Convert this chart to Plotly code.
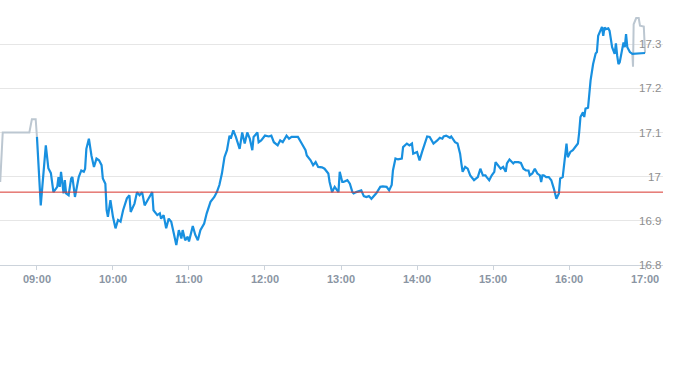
import plotly.graph_objects as go

DAY = "2024-01-02 "

pre_times = ["08:31", "08:33", "08:54", "08:56", "08:59", "09:00"]
pre_prices = [16.988, 17.10, 17.10, 17.13, 17.13, 17.09]

main_times = [
    "09:00", "09:03", "09:07", "09:09", "09:11", "09:13", "09:16", "09:17", "09:18", "09:19",
    "09:21", "09:22", "09:23", "09:25", "09:27", "09:28", "09:30", "09:33", "09:35", "09:37",
    "09:38", "09:39", "09:41", "09:43", "09:45", "09:47", "09:49", "09:51", "09:52", "09:54",
    "09:55", "09:56", "09:58", "10:00", "10:02", "10:04", "10:06", "10:08", "10:11", "10:13",
    "10:14", "10:17", "10:19", "10:21", "10:23", "10:25", "10:28", "10:31", "10:32", "10:35",
    "10:37", "10:38", "10:40", "10:42", "10:44", "10:46", "10:48", "10:50", "10:52", "10:54",
    "10:55", "10:57", "10:59", "11:00", "11:03", "11:05", "11:07", "11:09", "11:12", "11:14",
    "11:17", "11:20", "11:22", "11:24", "11:26", "11:28", "11:30", "11:32", "11:33", "11:35",
    "11:37", "11:40", "11:42", "11:44", "11:46", "11:48", "11:50", "11:51", "11:54", "11:55",
    "11:57", "12:00", "12:03", "12:05", "12:07", "12:10", "12:12", "12:14", "12:17", "12:19",
    "12:21", "12:24", "12:26", "12:29", "12:32", "12:33", "12:36", "12:38", "12:40", "12:42",
    "12:45", "12:47", "12:50", "12:51", "12:53", "12:55", "12:57", "12:58", "12:59", "13:01",
    "13:02", "13:05", "13:07", "13:09", "13:10", "13:12", "13:16", "13:18", "13:20", "13:22",
    "13:24", "13:26", "13:28", "13:31", "13:33", "13:36", "13:38", "13:40", "13:41", "13:43",
    "13:45", "13:48", "13:49", "13:52", "13:54", "13:56", "13:57", "14:00", "14:02", "14:04",
    "14:06", "14:08", "14:10", "14:12", "14:13", "14:16", "14:18", "14:20", "14:21", "14:23",
    "14:26", "14:27", "14:30", "14:32", "14:34", "14:35", "14:36", "14:38", "14:40", "14:42",
    "14:45", "14:48", "14:50", "14:52", "14:54", "14:55", "14:57", "14:59", "15:01", "15:02",
    "15:04", "15:06", "15:08", "15:10", "15:11", "15:13", "15:16", "15:17", "15:20", "15:22",
    "15:24", "15:26", "15:28", "15:29", "15:31", "15:33", "15:35", "15:37", "15:38", "15:39",
    "15:40", "15:42", "15:44", "15:45", "15:46", "15:48", "15:49", "15:50", "15:52", "15:53",
    "15:55", "15:56", "15:58", "15:59", "16:01", "16:03", "16:05", "16:07", "16:08", "16:09",
    "16:11", "16:12", "16:13", "16:15", "16:17", "16:18", "16:19", "16:21", "16:22", "16:23",
    "16:25", "16:26", "16:27", "16:28", "16:29", "16:31", "16:32", "16:33", "16:34", "16:36",
    "16:37", "16:38", "16:39", "16:40", "16:42", "16:43", "16:44", "16:45", "16:46", "16:48",
    "16:50", "17:00",
]
main_prices = [
    17.090, 16.935, 17.071, 17.019, 17.008, 16.965, 16.977, 16.999, 16.977, 17.011,
    16.962, 16.992, 16.962, 16.958, 16.996, 16.999, 16.954, 16.999, 17.014, 17.011,
    17.018, 17.063, 17.086, 17.048, 17.022, 17.041, 17.037, 17.026, 16.996, 16.984,
    16.924, 16.909, 16.947, 16.909, 16.883, 16.902, 16.898, 16.924, 16.951, 16.958,
    16.920, 16.939, 16.965, 16.958, 16.965, 16.935, 16.950, 16.965, 16.924, 16.913,
    16.917, 16.905, 16.913, 16.883, 16.905, 16.898, 16.872, 16.845, 16.879, 16.860,
    16.879, 16.856, 16.864, 16.853, 16.888, 16.868, 16.856, 16.879, 16.894, 16.917,
    16.943, 16.954, 16.965, 16.981, 17.007, 17.044, 17.060, 17.093, 17.086, 17.105,
    17.090, 17.063, 17.100, 17.075, 17.100, 17.086, 17.060, 17.090, 17.100, 17.078,
    17.082, 17.093, 17.091, 17.093, 17.078, 17.071, 17.082, 17.078, 17.093, 17.086,
    17.090, 17.090, 17.090, 17.075, 17.060, 17.048, 17.037, 17.026, 17.033, 17.022,
    17.021, 17.018, 17.007, 16.988, 16.965, 16.977, 16.968, 16.965, 17.011, 16.988,
    16.988, 16.992, 16.984, 16.965, 16.962, 16.965, 16.969, 16.956, 16.954, 16.956,
    16.950, 16.956, 16.963, 16.977, 16.978, 16.977, 16.969, 16.981, 17.014, 17.041,
    17.039, 17.041, 17.067, 17.075, 17.071, 17.075, 17.052, 17.056, 17.037, 17.056,
    17.075, 17.091, 17.090, 17.078, 17.075, 17.082, 17.088, 17.086, 17.091, 17.093,
    17.088, 17.091, 17.078, 17.075, 17.052, 17.030, 17.011, 17.022, 17.018, 17.003,
    16.992, 16.999, 17.018, 17.003, 17.003, 16.999, 16.992, 17.003, 17.011, 17.033,
    17.026, 17.018, 17.022, 17.011, 17.030, 17.039, 17.030, 17.033, 17.033, 17.031,
    17.018, 17.014, 17.014, 17.003, 17.007, 17.018, 17.007, 17.003, 16.988, 17.003,
    17.003, 16.999, 16.999, 16.996, 16.992, 16.973, 16.958, 16.950, 16.962, 16.996,
    16.999, 17.022, 17.075, 17.044, 17.056, 17.060, 17.067, 17.075, 17.100, 17.135,
    17.146, 17.135, 17.154, 17.156, 17.218, 17.236, 17.255, 17.279, 17.282, 17.319,
    17.330, 17.339, 17.319, 17.338, 17.334, 17.336, 17.330, 17.308, 17.293, 17.278,
    17.302, 17.274, 17.255, 17.259, 17.289, 17.304, 17.293, 17.323, 17.293, 17.282,
    17.278, 17.280,
]

post_times = ["16:50", "16:50:30", "16:51", "16:53", "16:55", "16:56", "16:59", "17:00"]
post_prices = [17.278, 17.249, 17.345, 17.359, 17.359, 17.342, 17.340, 17.280]

prev_close = 16.965
y_ticks = [16.8, 16.9, 17.0, 17.1, 17.2, 17.3]
y_tick_text = ["16.8", "16.9", "17", "17.1", "17.2", "17.3"]
x_ticks = ["09:00", "10:00", "11:00", "12:00", "13:00", "14:00", "15:00", "16:00", "17:00"]

FONT = "Liberation Sans, Arial, sans-serif"

fig = go.Figure()
fig.add_trace(go.Scatter(x=[DAY + t for t in pre_times], y=pre_prices, mode="lines",
                         line=dict(color="#bcc7d1", width=2), hoverinfo="skip"))
fig.add_trace(go.Scatter(x=[DAY + t for t in post_times], y=post_prices, mode="lines",
                         line=dict(color="#bcc7d1", width=2), hoverinfo="skip"))
fig.add_trace(go.Scatter(x=[DAY + t for t in main_times], y=main_prices, mode="lines",
                         line=dict(color="#1890e0", width=2.2), hoverinfo="skip"))

fig.add_shape(type="line", xref="x domain", yref="y", x0=0, x1=1, y0=prev_close, y1=prev_close,
              line=dict(color="#d8342c", width=1), layer="above")

# right-aligned price labels at the right edge
for v, txt in zip(y_ticks, y_tick_text):
    fig.add_annotation(x=1.0, xref="paper", y=v, yref="y", text=txt, showarrow=False,
                       xanchor="right", yanchor="middle", xshift=0,
                       font=dict(size=11.5, color="#8e8e8e", family=FONT))

fig.update_layout(
    width=693, height=365,
    margin=dict(l=0, r=30, t=0, b=100, autoexpand=False),
    paper_bgcolor="white", plot_bgcolor="white",
    showlegend=False,
    font=dict(family=FONT),
    xaxis=dict(
        type="date",
        range=[DAY + "08:30:50", DAY + "17:14:10"],
        tickvals=[DAY + t for t in x_ticks],
        ticktext=x_ticks,
        showgrid=False, zeroline=False,
        showline=True, linecolor="#ccd3db", linewidth=1,
        ticks="outside", ticklen=4, tickcolor="#ccd3db",
        tickfont=dict(size=11, color="#8a95a3", family=FONT, weight="bold"),
        automargin=False,
        fixedrange=True,
    ),
    yaxis=dict(
        range=[16.8, 17.4],
        tickvals=y_ticks,
        side="right",
        showticklabels=False,
        showgrid=True, gridcolor="#e6e6e6", gridwidth=1,
        zeroline=False, showline=False, ticks="",
        automargin=False,
        fixedrange=True,
    ),
)

fig.write_html("out.html", config={"displayModeBar": False},
               post_script="document.body.style.margin='0';document.body.style.padding='0';")
